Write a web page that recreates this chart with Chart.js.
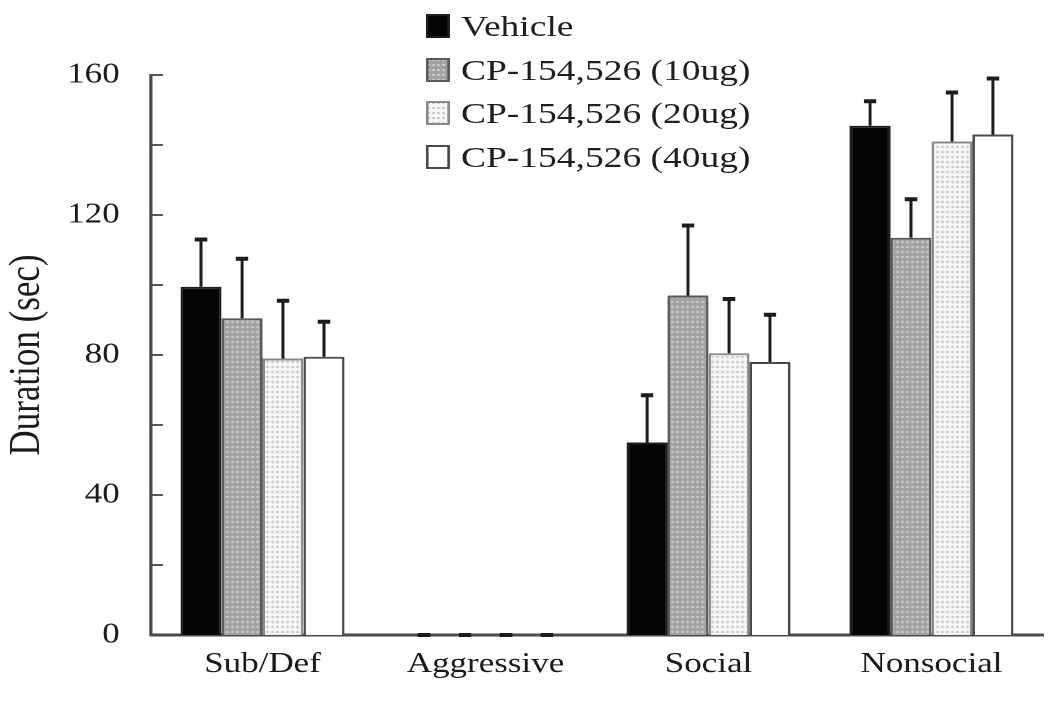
<!DOCTYPE html>
<html>
<head>
<meta charset="utf-8">
<script src="https://cdn.jsdelivr.net/npm/chart.js@4/dist/chart.umd.min.js"></script>
<style>
  html, body { margin: 0; padding: 0; background: #fff; }
  #wrap { position: relative; width: 1050px; height: 721px; overflow: hidden; }
  #legend { position: absolute; left: 426px; top: 4px; transform: scaleX(1.25); transform-origin: 0 0;
            font-family: 'Liberation Serif', 'Times New Roman', serif; font-size: 30px; color: #1e1e1e; }
  #legend .row { display: flex; align-items: center; height: 43.7px; white-space: nowrap; }
  #legend canvas { margin-right: 9px; }
</style>
</head>
<body>
<div id="wrap">
  <!-- the scanned figure is stretched sideways by about 1.25, so the chart is drawn
       840 wide and shown 1050 wide -->
  <canvas id="chart" width="840" height="721" style="display:block;width:1050px;height:721px"></canvas>
  <div id="legend"></div>
</div>
<script>
// data (duration in sec, mean + SEM)
const categories = ['Sub/Def', 'Aggressive', 'Social', 'Nonsocial'];
const seriesNames = ['Vehicle', 'CP-154,526 (10ug)', 'CP-154,526 (20ug)', 'CP-154,526 (40ug)'];
const vehicle = [99.5, 0, 55, 145.5];
const cp10 = [90.5, 0, 97, 113.5];
const cp20 = [79, 0, 80.5, 141];
const cp40 = [79.5, 0, 78, 143];
const vehicleErr = [13.5, 0, 13.5, 7];
const cp10Err = [17, 0, 20, 11];
const cp20Err = [16.5, 0, 15.5, 14];
const cp40Err = [10, 0, 13.5, 16];
const yTicks = [0, 40, 80, 120, 160];

const FONT = "'Liberation Serif', 'Times New Roman', serif";

// dotted fills like the printed patterns
function dots(base, dot) {
  const c = document.createElement('canvas');
  c.width = 4; c.height = 5;
  const x = c.getContext('2d');
  x.fillStyle = base; x.fillRect(0, 0, 4, 5);
  x.fillStyle = dot; x.fillRect(1, 1, 2, 2);
  return x.createPattern(c, 'repeat');
}
const fills = ['#050505', dots('#a2a2a2', '#cfcfcf'), dots('#f6f6f6', '#c4c4c4'), '#ffffff'];
const borders = ['#1e1e1e', '#5a5a5a', '#8a8a8a', '#4a4a4a'];
const errs = [vehicleErr, cp10Err, cp20Err, cp40Err];

// upper error bars only
const errorBars = {
  id: 'errorBars',
  afterDatasetsDraw(chart) {
    const ctx = chart.ctx, y = chart.scales.y;
    ctx.save();
    ctx.strokeStyle = '#1c1c1c';
    chart.data.datasets.forEach((ds, i) => {
      chart.getDatasetMeta(i).data.forEach((bar, j) => {
        const top = y.getPixelForValue(ds.data[j]);
        const end = y.getPixelForValue(ds.data[j] + errs[i][j]);
        ctx.lineWidth = 2.4;
        ctx.beginPath(); ctx.moveTo(bar.x, top); ctx.lineTo(bar.x, end); ctx.stroke();
        ctx.lineWidth = 4;
        ctx.beginPath(); ctx.moveTo(bar.x - 5, end); ctx.lineTo(bar.x + 5, end); ctx.stroke();
      });
    });
    ctx.restore();
  }
};

// ticks pointing into the plot
const innerTicks = {
  id: 'innerTicks',
  afterDraw(chart) {
    const ctx = chart.ctx, y = chart.scales.y, left = chart.chartArea.left;
    ctx.save();
    ctx.strokeStyle = '#555';
    ctx.lineWidth = 2;
    y.ticks.forEach(t => {
      if (t.value === 0) return;
      const py = y.getPixelForValue(t.value);
      ctx.beginPath(); ctx.moveTo(left, py); ctx.lineTo(left + 9.6, py); ctx.stroke();
    });
    ctx.restore();
  }
};

const chart = new Chart(document.getElementById('chart'), {
  type: 'bar',
  data: {
    labels: categories,
    datasets: [vehicle, cp10, cp20, cp40].map((d, i) => ({
      label: seriesNames[i],
      data: d,
      backgroundColor: fills[i],
      borderColor: borders[i],
      borderWidth: 2,
      borderSkipped: 'bottom',
      categoryPercentage: 0.735,
      barPercentage: 1.0
    }))
  },
  options: {
    responsive: false,
    devicePixelRatio: 2,
    animation: false,
    layout: { padding: { top: 75, right: 5.6, left: 0, bottom: 0 } },
    plugins: { legend: { display: false }, tooltip: { enabled: false } },
    scales: {
      x: {
        grid: { display: false, drawTicks: false },
        border: { color: '#4a4a4a', width: 3 },
        ticks: { color: '#1a1a1a', font: { family: FONT, size: 28 }, padding: 13 },
        afterFit: s => { s.height = 86; }
      },
      y: {
        min: 0, max: 160,
        grid: { display: false, drawTicks: false },
        border: { color: '#4a4a4a', width: 2.5 },
        ticks: {
          stepSize: 20,
          color: '#1a1a1a',
          font: { family: FONT, size: 28 },
          padding: 25,
          callback: v => yTicks.includes(v) ? v : ''
        },
        title: {
          display: true,
          text: 'Duration (sec)',
          color: '#1a1a1a',
          font: { family: FONT, size: 35 },
          padding: { top: 1, bottom: 0 }
        },
        afterFit: s => { s.width = 120.8; }
      }
    }
  },
  plugins: [errorBars, innerTicks]
});

// legend as a vertical list, like the original
const legend = document.getElementById('legend');
seriesNames.forEach((name, i) => {
  const row = document.createElement('div');
  row.className = 'row';
  const sw = document.createElement('canvas');
  sw.width = 19; sw.height = 24;
  const c = sw.getContext('2d');
  c.fillStyle = fills[i]; c.fillRect(0, 0, 19, 24);
  c.strokeStyle = borders[i]; c.lineWidth = 2; c.strokeRect(1, 1, 17, 22);
  const label = document.createElement('span');
  label.textContent = name;
  row.appendChild(sw); row.appendChild(label);
  legend.appendChild(row);
});
</script>
</body>
</html>
